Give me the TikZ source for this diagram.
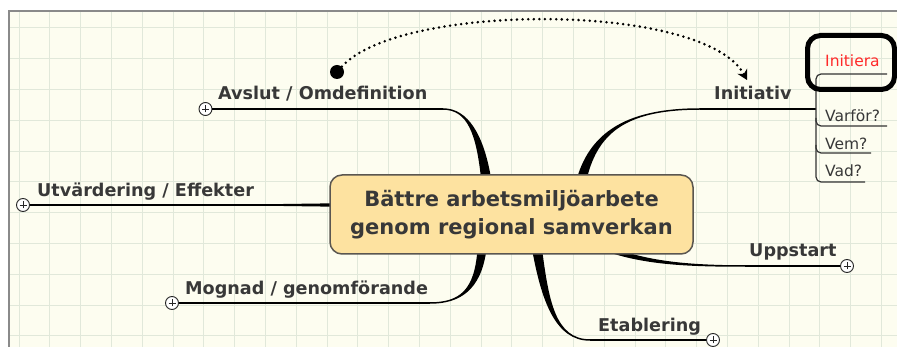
\documentclass[tikz,border=0pt]{standalone}
\usepackage{fontspec}
\setmainfont{DejaVu Sans}
\usetikzlibrary{arrows.meta,calc}
\definecolor{bg}{HTML}{FDFDF0}
\definecolor{gridc}{HTML}{E1E8DA}
\definecolor{framec}{HTML}{8A8A8A}
\definecolor{boxfill}{HTML}{FDE2A0}
\definecolor{boxdraw}{HTML}{5A5650}
\definecolor{txt}{HTML}{383838}
\definecolor{redtxt}{HTML}{FF2A2A}
\newcommand\taperbranch[6]{\fill[black] ($#1+#5$) .. controls ($#2+0.75*#5$) and ($#3+#6$) .. ($#4+#6$) -- ($#4-#6$) .. controls ($#3-#6$) and ($#2-0.75*#5$) .. ($#1-#5$) -- cycle;}
\begin{document}
\begin{tikzpicture}[x=1pt,y=-1pt,
  branchlabel/.style={anchor=base west, inner sep=0pt, font=\fontsize{17.6}{20}\selectfont\bfseries, text=txt},
  sublabel/.style={anchor=base west, inner sep=0pt, font=\fontsize{15.5}{18}\selectfont, text=txt},
  thinline/.style={line width=1.5pt, draw=black},
  bracketline/.style={line width=1.2pt, draw=black!80, rounded corners=5pt},
  expander/.style={circle, draw=black!85, line width=0.9pt, fill=white, minimum size=13pt, inner sep=0pt,
    path picture={\draw[line width=0.9pt] ([xshift=-3.5pt]path picture bounding box.center) -- ([xshift=3.5pt]path picture bounding box.center);
                  \draw[line width=0.9pt] ([yshift=-3.5pt]path picture bounding box.center) -- ([yshift=3.5pt]path picture bounding box.center);}},
]
\useasboundingbox (0,0) rectangle (897,347);
\fill[white] (0,0) rectangle (897,347);
\fill[bg] (9,11) rectangle (897,347);
\foreach \k in {0,...,28} \draw[gridc, line width=1pt] ({19+30.8*\k},11) -- ({19+30.8*\k},347);
\foreach \k in {0,...,10} \draw[gridc, line width=1pt] (9,{28+30.8*\k}) -- (897,{28+30.8*\k});
\draw[framec, line width=1.2pt] (9,347) -- (9,11) -- (897,11);

% tapered branches (under the central box)
\taperbranch{(486,178)}{(480,135)}{(468,109)}{(443,109)}{(5,0)}{(0,-0.75)}
\taperbranch{(582,178)}{(595,130)}{(630,109)}{(700,109)}{(5,0)}{(0,0.75)}
\taperbranch{(482,249)}{(478,290)}{(460,303)}{(430,303)}{(4.5,0)}{(0,0.75)}
\taperbranch{(537,249)}{(545,300)}{(555,340)}{(590,340)}{(5,0)}{(0,-0.75)}
\taperbranch{(600,246)}{(640,262)}{(680,266)}{(745,266)}{(-1.1,2.8)}{(0,0.75)}
\fill[black] (335,203.3) -- (265,204.25) -- (265,205.75) -- (335,206.7) -- cycle;

% central topic
\node[draw=boxdraw, line width=1.5pt, fill=boxfill, rounded corners=12pt, minimum width=363pt, minimum height=79pt,
      inner sep=0pt, align=center, font=\fontsize{21}{28}\selectfont\bfseries, text=txt]
      (center) at (511.5,214.5) {Bättre arbetsmiljöarbete\\genom regional samverkan};

% branch ends
\coordinate (avE) at (443,109);
\coordinate (inE) at (700,109);
\coordinate (moE) at (430,303);
\coordinate (etE) at (590,340);
\coordinate (upE) at (745,266);
\coordinate (utE) at (265,205);
\coordinate (inBr) at (816,109);

\node[expander] (avX) at (205.5,109) {};
\node[expander] (utX) at (23,205) {};
\node[expander] (moX) at (172,303) {};
\node[expander] (upX) at (847,266) {};
\node[expander] (etX) at (713,340) {};

\draw[thinline] (avE) -- (avX);
\draw[thinline] (utE) -- (utX);
\draw[thinline] (moE) -- (moX);
\draw[thinline] (upE) -- (upX);
\draw[thinline] (etE) -- (etX);
\draw[thinline] (inE) -- (inBr);

% labels
\node[branchlabel] (av) at (218,100) {Avslut / Omdefinition};
\node[branchlabel] (in) at (714,100) {Initiativ};
\node[branchlabel] (ut) at (37,197) {Utvärdering / Effekter};
\node[branchlabel] (mo) at (185,295) {Mognad / genomförande};
\node[branchlabel] (up) at (749,257) {Uppstart};
\node[branchlabel] (et) at (598,332) {Etablering};

% sub-items of Initiativ
\draw[bracketline] (887,74) -- (816,74) -- (816,126) -- (887,126);
\draw[bracketline] (816,118) -- (816,153) -- (871,153);
\draw[bracketline] (816,145) -- (816,182) -- (865,182);
\node[sublabel, text=redtxt] (s1) at (825,67) {Initiera};
\node[sublabel] (s2) at (825,122) {Varför?};
\node[sublabel] (s3) at (825,150) {Vem?};
\node[sublabel] (s4) at (825,177) {Vad?};
\node[draw=black, line width=5pt, rounded corners=13pt, minimum width=87pt, minimum height=54pt, inner sep=0pt] (initbox) at (851,62.5) {};

% dotted relation
\node[circle, fill=black, minimum size=14pt, inner sep=0pt] (dot) at (337,72) {};
\coordinate (arr) at (747,80);
\draw[line width=2.8pt, dash pattern=on 0pt off 5.6pt, line cap=round, -{Stealth[length=10pt,width=11pt]}]
  (dot) .. controls (400,2) and (705,2) .. (arr);
\end{tikzpicture}
\end{document}
